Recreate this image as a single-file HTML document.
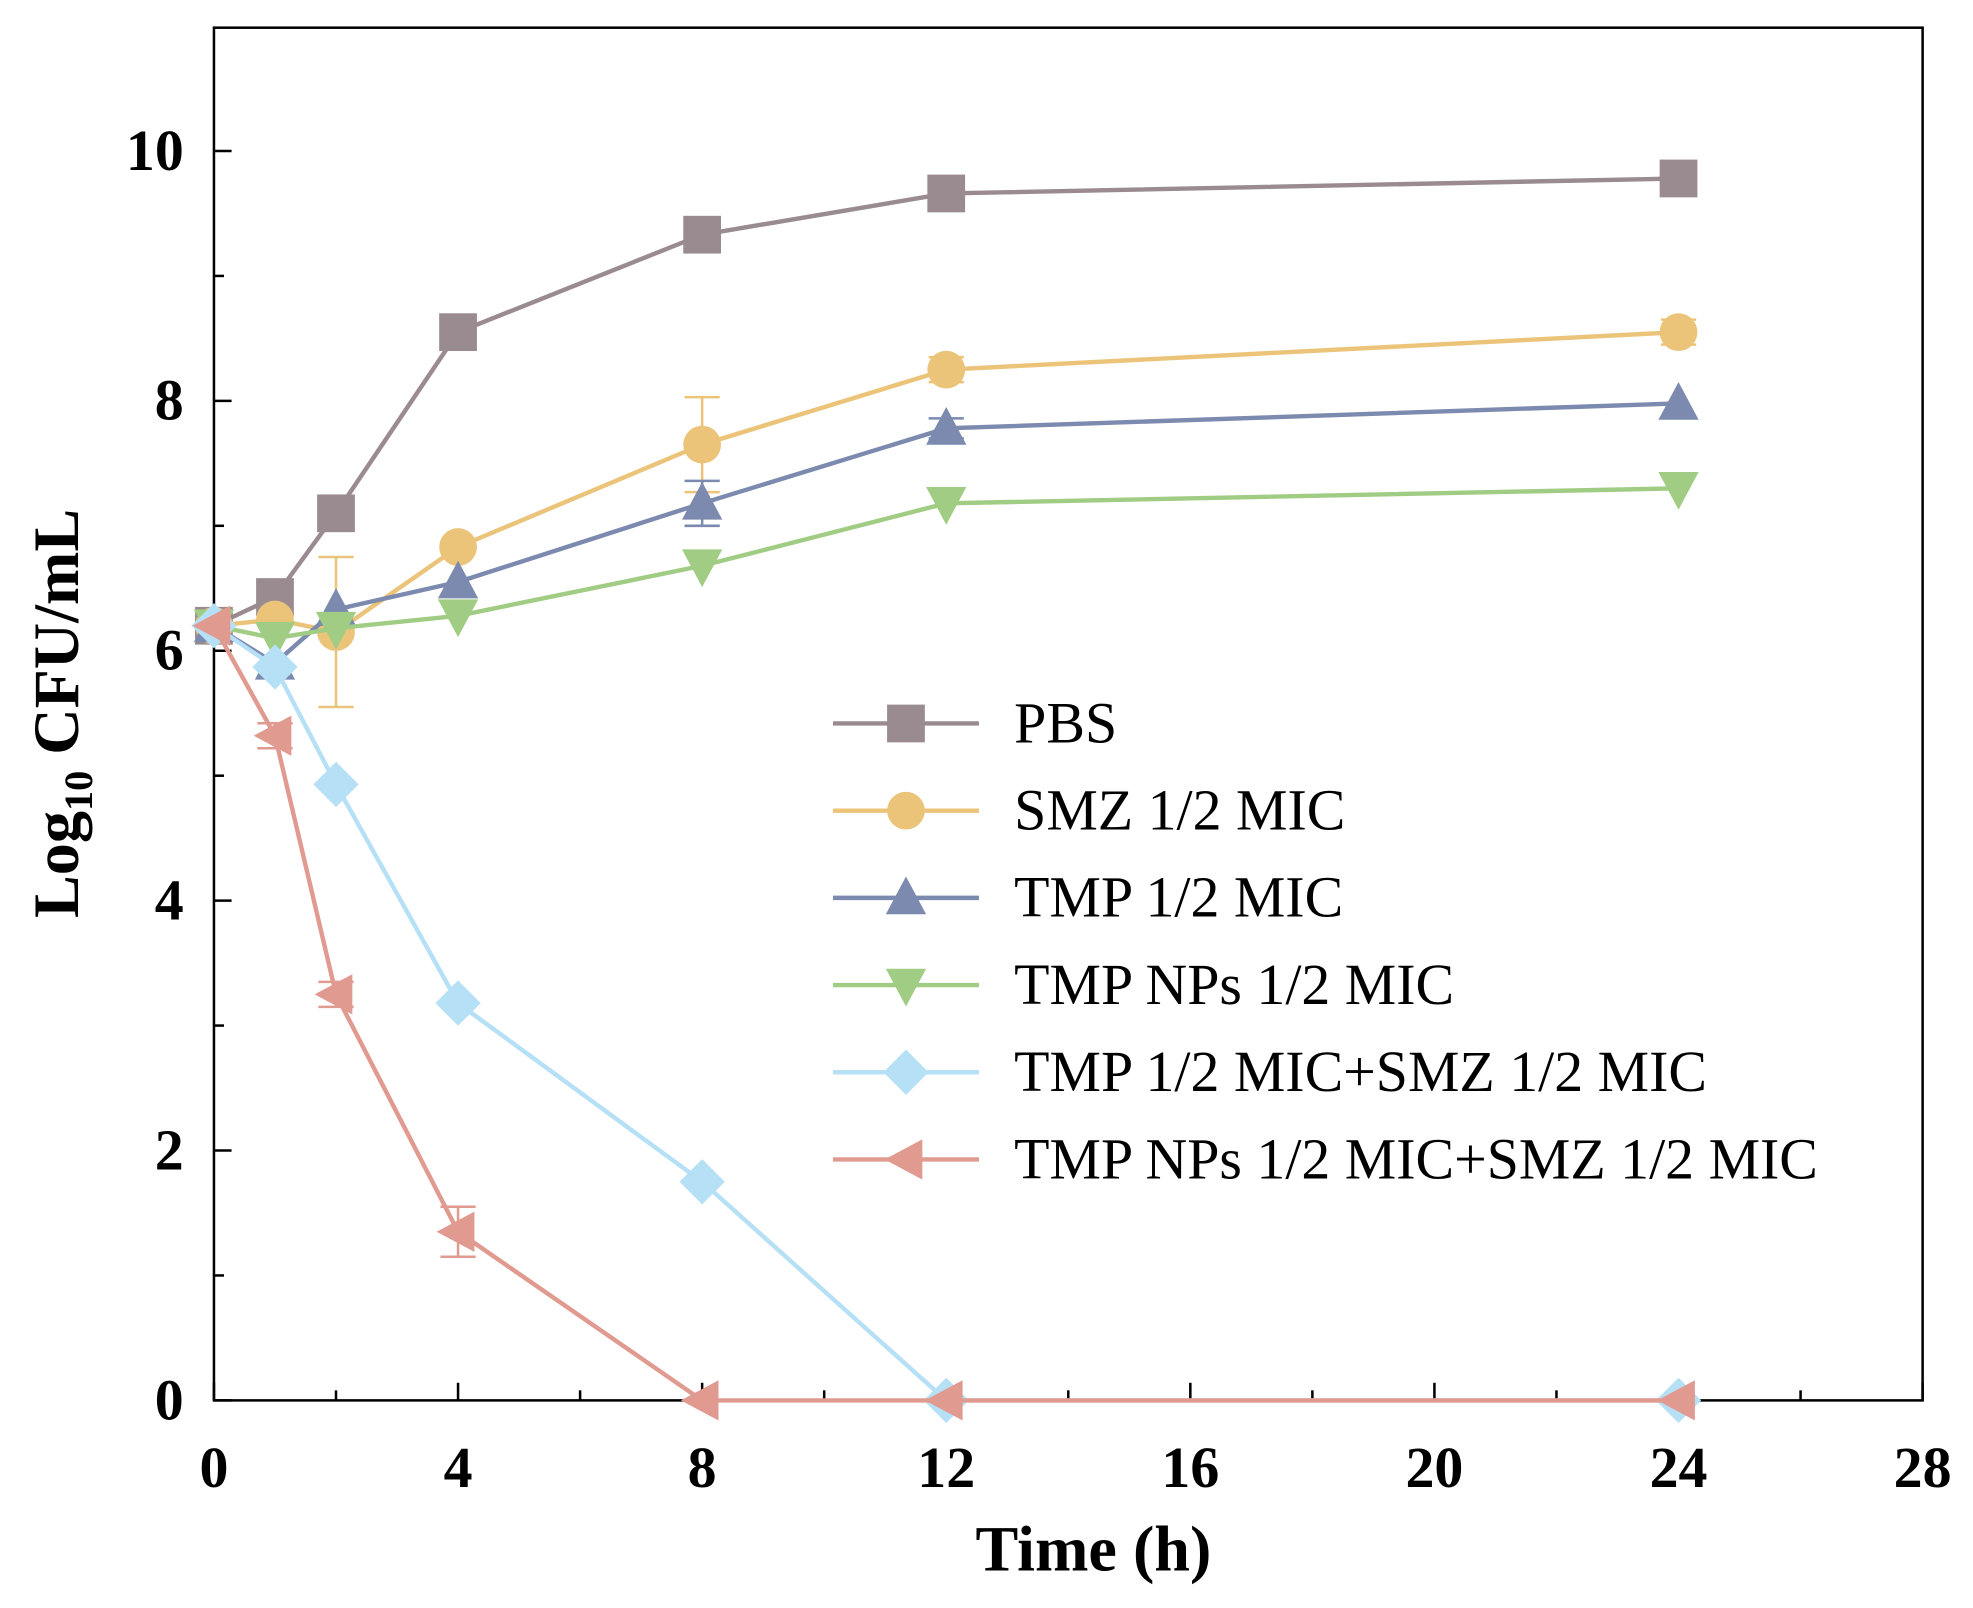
<!DOCTYPE html>
<html><head><meta charset="utf-8"><style>
html,body{margin:0;padding:0;background:#fff}
svg{display:block}
text{font-family:"Liberation Serif",serif}
</style></head><body>
<svg id="chart" width="1973" height="1608" viewBox="0 0 1568 1278" xmlns="http://www.w3.org/2000/svg">
<g id="axes"></g><g id="plot"></g><g id="legend"></g>
</svg>
<script>
const times=[0,1,2,4,8,12,24];
const seriesNames=["PBS","SMZ 1/2 MIC","TMP 1/2 MIC","TMP NPs 1/2 MIC","TMP 1/2 MIC+SMZ 1/2 MIC","TMP NPs 1/2 MIC+SMZ 1/2 MIC"];
const pbs=[6.2,6.43,7.1,8.55,9.33,9.66,9.78];
const smz=[6.2,6.25,6.15,6.83,7.65,8.25,8.55];
const tmp=[6.2,5.9,6.33,6.55,7.18,7.78,7.98];
const tmpNps=[6.2,6.1,6.18,6.28,6.68,7.18,7.3];
const combo=[6.2,5.87,4.93,3.18,1.75,0,0];
const npsCombo=[6.2,5.32,3.25,1.35,0,0,0];
const smzErr=[0,0.05,0.6,0.05,0.38,0.1,0.1];
const tmpErr=[0,0.05,0.05,0.05,0.18,0.08,0.05];
const npsComboErr=[0,0.1,0.1,0.2,0,0,0];
const xTicks=[0,4,8,12,16,20,24,28];
const yTicks=[0,2,4,6,8,10];
const NS="http://www.w3.org/2000/svg";
const L=170,R=1528,T=22,B=1113;
const X=t=>L+(R-L)*t/28;
const Y=v=>B-(B-120)*v/10;
function el(tag,attrs,parent){const e=document.createElementNS(NS,tag);for(const k in attrs)e.setAttribute(k,attrs[k]);parent.appendChild(e);return e;}
const axes=document.getElementById('axes'),plot=document.getElementById('plot'),leg=document.getElementById('legend');
const frame=el('rect',{x:L,y:T,width:R-L,height:B-T,fill:'none',stroke:'#000','stroke-width':2},axes);

for(let t=0;t<=28;t+=2){const maj=t%4==0;el('line',{x1:X(t),x2:X(t),y1:B,y2:B-(maj?14:8),stroke:'#000','stroke-width':2},axes);}
for(let v=0;v<=10;v+=1){const maj=v%2==0;el('line',{x1:L,x2:L+(maj?14:8),y1:Y(v),y2:Y(v),stroke:'#000','stroke-width':2},axes);}
xTicks.forEach(t=>{const e=el('text',{x:X(t),y:1182,'text-anchor':'middle','font-size':46,'font-weight':'bold'},axes);e.textContent=t;
});
yTicks.forEach(v=>{const e=el('text',{x:146,y:Y(v)+15,'text-anchor':'end','font-size':46,'font-weight':'bold'},axes);e.textContent=v;
});
const xt=el('text',{x:869,y:1248,'text-anchor':'middle','font-size':51,'font-weight':'bold'},axes);xt.textContent='Time (h)';

const yt=el('text',{x:0,y:0,'text-anchor':'middle','font-size':51,'font-weight':'bold',transform:'translate(62,567) rotate(-90)'},axes);
yt.innerHTML='Log<tspan font-size="32" dy="11">10</tspan><tspan dy="-11"> CFU/mL</tspan>';

const colors=['#9a8b91','#ebc47a','#7b8aae','#a1cc84','#b6e0f6','#e09a90'];
const shapes=['square','circle','up','down','diamond','left'];
const data=[pbs,smz,tmp,tmpNps,combo,npsCombo];
const errs=[null,smzErr,tmpErr,null,null,npsComboErr];
function marker(shape,cx,cy,c,p){const s=15;let pts;
 if(shape=='square')return el('rect',{x:cx-s,y:cy-s,width:2*s,height:2*s,fill:c},p);
 if(shape=='circle')return el('circle',{cx:cx,cy:cy,r:s,fill:c},p);
 if(shape=='up')pts=[[cx,cy-s-2],[cx+s+1,cy+s-2],[cx-s-1,cy+s-2]];
 if(shape=='down')pts=[[cx,cy+s+2],[cx+s+1,cy-s+2],[cx-s-1,cy-s+2]];
 if(shape=='diamond')pts=[[cx,cy-s-3],[cx+s+3,cy],[cx,cy+s+3],[cx-s-3,cy]];
 if(shape=='left')pts=[[cx-s-2,cy],[cx+s-2,cy-s-1],[cx+s-2,cy+s+1]];
 return el('polygon',{points:pts.map(q=>q.join(',')).join(' '),fill:c},p);}
data.forEach((vals,i)=>{const g=el('g',{},plot);
 
 const ln=el('polyline',{points:times.map((t,j)=>X(t)+','+Y(vals[j])).join(' '),fill:'none',stroke:colors[i],'stroke-width':3.5},g);
 
 if(errs[i])times.forEach((t,j)=>{const e=errs[i][j];if(e<=0.06)return;const x=X(t);
  el('line',{x1:x,x2:x,y1:Y(vals[j]-e),y2:Y(vals[j]+e),stroke:colors[i],'stroke-width':2},g);
  el('line',{x1:x-14,x2:x+14,y1:Y(vals[j]-e),y2:Y(vals[j]-e),stroke:colors[i],'stroke-width':2},g);
  el('line',{x1:x-14,x2:x+14,y1:Y(vals[j]+e),y2:Y(vals[j]+e),stroke:colors[i],'stroke-width':2},g);});
 times.forEach((t,j)=>{const m=marker(shapes[i],X(t),Y(vals[j]),colors[i],g);
  });
 const ly=575+i*69.3;const lg=el('g',{},leg);
 
 el('line',{x1:662,x2:778,y1:ly,y2:ly,stroke:colors[i],'stroke-width':3.5},lg);
 marker(shapes[i],720,ly,colors[i],lg);
 const tx=el('text',{x:806,y:ly+15,'font-size':46},lg);tx.textContent=seriesNames[i];
});
</script>
</body></html>
